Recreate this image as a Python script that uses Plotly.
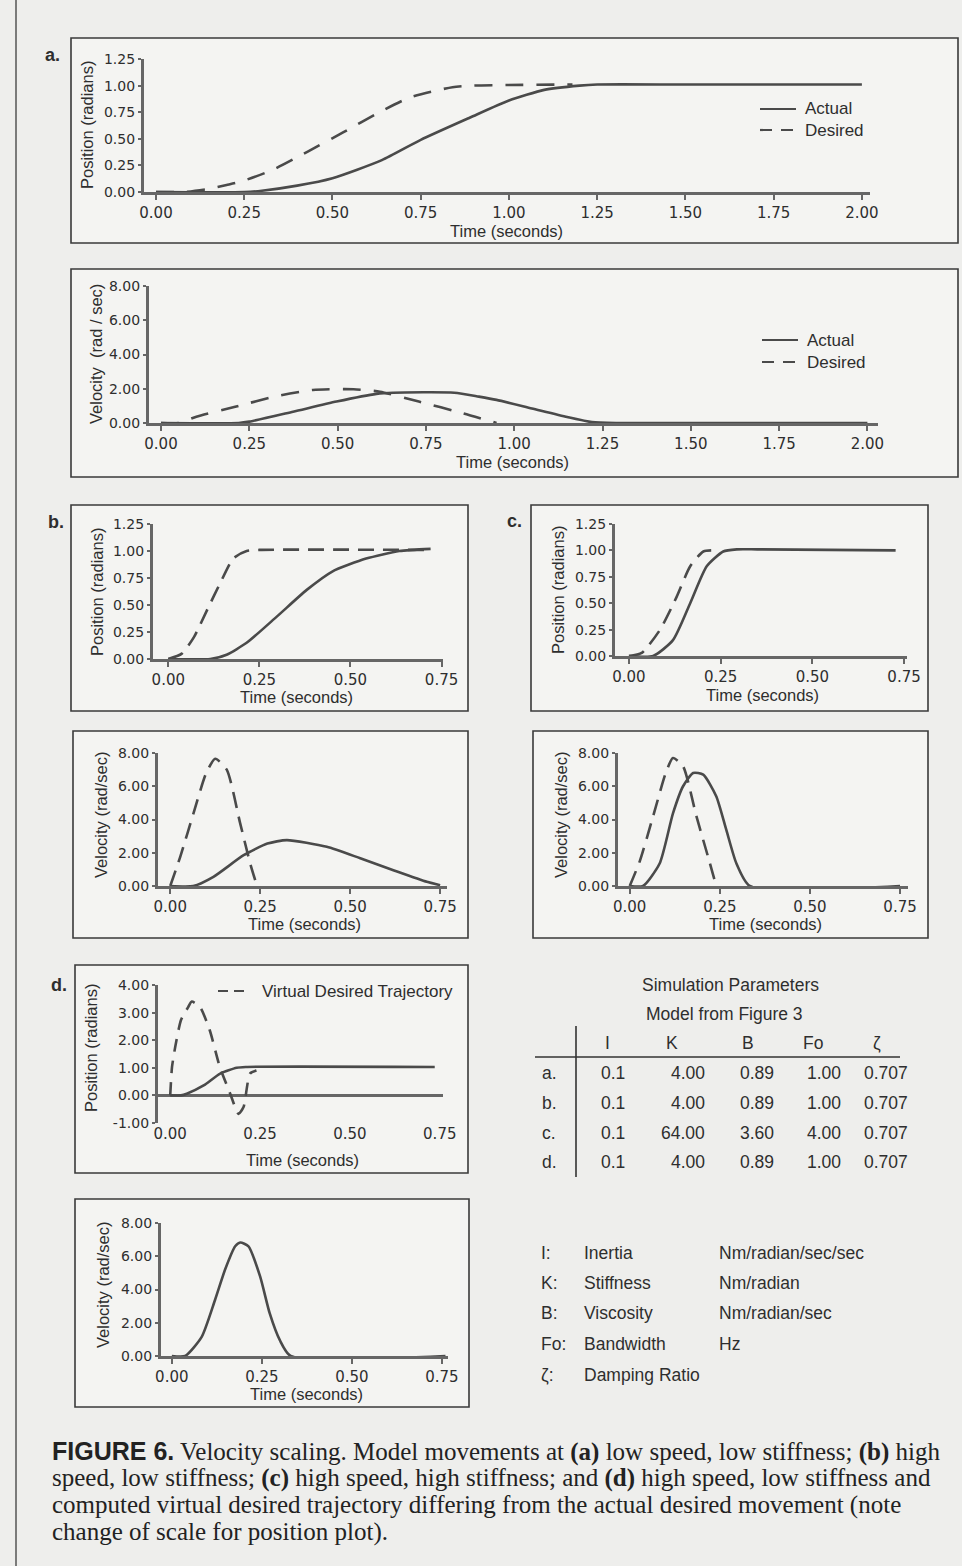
import plotly.graph_objects as go

W, H = 962, 1566

# ---------------- data ----------------
# Panel a : low speed, low stiffness
a_pos_t_actual = [0.0, 0.25, 0.30, 0.40, 0.50, 0.64, 0.75, 0.89, 1.0, 1.10, 1.20, 1.25, 1.5, 2.0]
a_pos_actual = [0.0, 0.0, 0.012, 0.06, 0.13, 0.30, 0.49, 0.70, 0.86, 0.96, 1.0, 1.01, 1.01, 1.01]
a_pos_t_desired = [0.0, 0.08, 0.15, 0.20, 0.24, 0.33, 0.43, 0.53, 0.63, 0.72, 0.84, 0.90, 1.18]
a_pos_desired = [0.0, 0.0, 0.03, 0.066, 0.097, 0.207, 0.38, 0.56, 0.745, 0.89, 0.985, 1.0, 1.01]
a_vel_t_actual = [0.0, 0.22, 0.25, 0.374, 0.497, 0.61, 0.657, 0.83, 0.90, 0.95, 1.05, 1.15, 1.22, 1.3, 2.0]
a_vel_actual = [0.0, 0.0, 0.08, 0.66, 1.25, 1.70, 1.77, 1.77, 1.54, 1.35, 0.85, 0.35, 0.05, 0.0, 0.0]
a_vel_t_desired = [0.0, 0.05, 0.10, 0.21, 0.33, 0.43, 0.545, 0.62, 0.73, 0.855, 0.95]
a_vel_desired = [0.0, 0.0, 0.37, 0.95, 1.58, 1.93, 1.97, 1.83, 1.25, 0.57, 0.0]

# Panel b : high speed, low stiffness
b_pos_t_actual = [0.0, 0.115, 0.16, 0.215, 0.297, 0.38, 0.45, 0.543, 0.634, 0.72]
b_pos_actual = [0.0, 0.0, 0.04, 0.15, 0.39, 0.64, 0.81, 0.93, 1.0, 1.02]
b_pos_t_desired = [0.0, 0.037, 0.07, 0.106, 0.142, 0.178, 0.215, 0.25, 0.72]
b_pos_desired = [0.0, 0.05, 0.2, 0.45, 0.70, 0.93, 1.0, 1.01, 1.01]
b_vel_t_actual = [0.0, 0.064, 0.12, 0.204, 0.27, 0.324, 0.435, 0.528, 0.62, 0.713, 0.75]
b_vel_actual = [0.0, 0.0, 0.55, 1.85, 2.55, 2.76, 2.36, 1.67, 0.95, 0.25, 0.05]
b_vel_t_desired = [0.0, 0.028, 0.065, 0.10, 0.125, 0.157, 0.194, 0.222, 0.241]
b_vel_desired = [0.0, 1.77, 4.4, 6.8, 7.65, 7.0, 3.8, 1.37, 0.0]

# Panel c : high speed, high stiffness
c_pos_t_actual = [0.0, 0.066, 0.12, 0.167, 0.212, 0.257, 0.294, 0.35, 0.727]
c_pos_actual = [0.0, 0.0, 0.15, 0.5, 0.85, 0.99, 1.01, 1.01, 1.0]
c_pos_t_desired = [0.0, 0.035, 0.085, 0.13, 0.167, 0.203, 0.24]
c_pos_desired = [0.0, 0.03, 0.25, 0.56, 0.85, 0.99, 1.0]
c_vel_t_actual = [0.0, 0.037, 0.083, 0.12, 0.148, 0.176, 0.204, 0.24, 0.268, 0.296, 0.333, 0.75]
c_vel_actual = [0.0, 0.0, 1.35, 4.37, 6.0, 6.8, 6.7, 5.4, 3.37, 1.35, 0.0, 0.0]
c_vel_t_desired = [0.0, 0.028, 0.065, 0.10, 0.12, 0.148, 0.185, 0.222, 0.24]
c_vel_desired = [0.0, 1.5, 4.2, 6.8, 7.7, 7.2, 4.2, 1.4, 0.0]

# Panel d : high speed, low stiffness, virtual desired trajectory
d_pos_t_actual = [0.0, 0.03, 0.046, 0.093, 0.139, 0.185, 0.21, 0.736]
d_pos_actual = [0.0, 0.0, 0.06, 0.36, 0.79, 1.0, 1.03, 1.03]
d_pos_t_virtual = [0.0, 0.005, 0.014, 0.03, 0.05, 0.06, 0.083, 0.11, 0.138, 0.167, 0.19, 0.204, 0.222, 0.24]
d_pos_virtual = [0.0, 1.03, 1.76, 2.73, 3.2, 3.4, 3.2, 2.36, 1.03, 0.06, -0.67, -0.42, 0.79, 0.9]
d_vel_t_actual = [0.0, 0.037, 0.083, 0.12, 0.148, 0.176, 0.19, 0.213, 0.245, 0.272, 0.30, 0.33, 0.76]
d_vel_actual = [0.0, 0.0, 1.15, 3.37, 5.2, 6.6, 6.83, 6.6, 4.8, 2.56, 0.95, 0.0, 0.0]

# tick values
a_time_ticks = [0.0, 0.25, 0.5, 0.75, 1.0, 1.25, 1.5, 1.75, 2.0]
short_time_ticks = [0.0, 0.25, 0.5, 0.75]
pos_ticks = [0.0, 0.25, 0.5, 0.75, 1.0, 1.25]
vel_ticks = [0.0, 2.0, 4.0, 6.0, 8.0]
d_pos_ticks = [-1.0, 0.0, 1.0, 2.0, 3.0, 4.0]

# table of simulation parameters
table_rows = ["a.", "b.", "c.", "d."]
table_I = ["0.1", "0.1", "0.1", "0.1"]
table_K = ["4.00", "4.00", "64.00", "4.00"]
table_B = ["0.89", "0.89", "3.60", "0.89"]
table_Fo = ["1.00", "1.00", "4.00", "1.00"]
table_zeta = ["0.707", "0.707", "0.707", "0.707"]
def_symbols = ["I:", "K:", "B:", "Fo:", "ζ:"]
def_names = ["Inertia", "Stiffness", "Viscosity", "Bandwidth", "Damping Ratio"]
def_units = ["Nm/radian/sec/sec", "Nm/radian", "Nm/radian/sec", "Hz", ""]

caption_lines = [
    "<span style='font-family:Liberation Sans'><b>FIGURE 6.</b></span> Velocity scaling. Model movements at <b>(a)</b> low speed, low stiffness; <b>(b)</b> high",
    "speed, low stiffness; <b>(c)</b> high speed, high stiffness; and <b>(d)</b> high speed, low stiffness and",
    "computed virtual desired trajectory differing from the actual desired movement (note",
    "change of scale for position plot).",
]

# ---------------- styling / layout helpers ----------------
BG = "#eeeeec"
PANEL_BG = "#f4f4f2"
INK = "#2e2e2e"
CURVE = "#4a4a4a"
AXIS = "#666666"
SANS = "Liberation Sans, Arial, sans-serif"
TICKF = "DejaVu Sans, sans-serif"
SERIF = "Liberation Serif, Times New Roman, serif"


def X(px):
    return px / W


def Y(py):
    return 1 - py / H


panels = [
    dict(box=(71, 38, 958, 243), area=(144, 870, 59, 192), xr=(-0.034, 2.023), yr=(0, 1.25),
         xt=a_time_ticks, yt=pos_ticks, ytitle="Position (radians)", ytpos=(87, 125), xtpos=(506, 231)),
    dict(box=(71, 269, 958, 477), area=(149, 878, 286, 423), xr=(-0.034, 2.03), yr=(0, 8),
         xt=a_time_ticks, yt=vel_ticks, ytitle="Velocity  (rad / sec)", ytpos=(96, 354), xtpos=(512, 462)),
    dict(box=(71, 505, 468, 711), area=(153, 443, 524, 659), xr=(-0.042, 0.754), yr=(0, 1.25),
         xt=short_time_ticks, yt=pos_ticks, ytitle="Position (radians)", ytpos=(97, 592), xtpos=(296, 697)),
    dict(box=(531, 505, 928, 711), area=(615, 907, 524, 656), xr=(-0.038, 0.758), yr=(0, 1.25),
         xt=short_time_ticks, yt=pos_ticks, ytitle="Position (radians)", ytpos=(558, 590), xtpos=(762, 695)),
    dict(box=(73, 731, 468, 938), area=(158, 447, 753, 886), xr=(-0.034, 0.769), yr=(0, 8),
         xt=short_time_ticks, yt=vel_ticks, ytitle="Velocity (rad/sec)", ytpos=(101, 815), xtpos=(304, 924)),
    dict(box=(533, 731, 928, 938), area=(618, 908, 753, 886), xr=(-0.0325, 0.772), yr=(0, 8),
         xt=short_time_ticks, yt=vel_ticks, ytitle="Velocity (rad/sec)", ytpos=(561, 815), xtpos=(765, 924)),
    dict(box=(75, 965, 468, 1173), area=(158, 443, 985, 1123), xr=(-0.034, 0.759), yr=(-1, 4),
         xt=short_time_ticks, yt=d_pos_ticks, ytitle="Position (radians)", ytpos=(91, 1048), xtpos=(302, 1160),
         zero=True),
    dict(box=(75, 1199, 469, 1407), area=(161, 448, 1223, 1356), xr=(-0.03, 0.767), yr=(0, 8),
         xt=short_time_ticks, yt=vel_ticks, ytitle="Velocity (rad/sec)", ytpos=(103, 1285), xtpos=(306, 1394)),
]

series = [
    # (panel index, t, v, dash, name)
    (0, a_pos_t_actual, a_pos_actual, "solid", "Actual"),
    (0, a_pos_t_desired, a_pos_desired, "18px,13px", "Desired"),
    (1, a_vel_t_actual, a_vel_actual, "solid", "Actual"),
    (1, a_vel_t_desired, a_vel_desired, "18px,13px", "Desired"),
    (2, b_pos_t_actual, b_pos_actual, "solid", "Actual"),
    (2, b_pos_t_desired, b_pos_desired, "16px,9px", "Desired"),
    (3, c_pos_t_actual, c_pos_actual, "solid", "Actual"),
    (3, c_pos_t_desired, c_pos_desired, "16px,9px", "Desired"),
    (4, b_vel_t_actual, b_vel_actual, "solid", "Actual"),
    (4, b_vel_t_desired, b_vel_desired, "16px,9px", "Desired"),
    (5, c_vel_t_actual, c_vel_actual, "solid", "Actual"),
    (5, c_vel_t_desired, c_vel_desired, "16px,9px", "Desired"),
    (6, d_pos_t_actual, d_pos_actual, "solid", "Actual"),
    (6, d_pos_t_virtual, d_pos_virtual, "13px,9px", "Virtual Desired Trajectory"),
    (7, d_vel_t_actual, d_vel_actual, "solid", "Actual"),
]

fig = go.Figure()

for pi, t, v, dash, name in series:
    k = "" if pi == 0 else str(pi + 1)
    fig.add_trace(go.Scatter(
        x=t, y=v, mode="lines", xaxis="x" + k, yaxis="y" + k, name=name, showlegend=False,
        line=dict(color=CURVE, width=2.6, dash=dash, shape="spline", smoothing=0.6),
        hoverinfo="skip"))

layout = dict(
    template="none",
    width=W, height=H, autosize=False,
    margin=dict(l=0, r=0, t=0, b=0, pad=0),
    paper_bgcolor=BG, plot_bgcolor="rgba(0,0,0,0)",
    font=dict(family=SANS, color=INK),
    showlegend=False,
)

shapes = []
annotations = []

for i, p in enumerate(panels):
    k = "" if i == 0 else str(i + 1)
    l, r, t, b = p["area"]
    zero = p.get("zero", False)
    layout["xaxis" + k] = dict(
        domain=[X(l), X(r)], range=list(p["xr"]), anchor="y" + k, automargin=False,
        tickvals=p["xt"], ticktext=[f"{v:.2f}" for v in p["xt"]],
        showline=not zero, linewidth=3.2, linecolor=AXIS,
        ticks="" if zero else "outside", ticklen=5, tickwidth=1.5, tickcolor=AXIS,
        tickfont=dict(family=TICKF, size=15, color=INK),
        showgrid=False, zeroline=False, fixedrange=True,
    )
    layout["yaxis" + k] = dict(
        domain=[Y(b), Y(t)], range=list(p["yr"]), anchor="x" + k, automargin=False,
        tickvals=p["yt"], ticktext=[f"{v:.2f}" for v in p["yt"]],
        showline=True, linewidth=3.2, linecolor=AXIS,
        ticks="outside", ticklen=3, tickwidth=1.5, tickcolor=AXIS,
        tickfont=dict(family=TICKF, size=14, color=INK),
        showgrid=False, zeroline=zero, zerolinewidth=3.2, zerolinecolor=AXIS, fixedrange=True,
    )
    bl, bt, br, bb = p["box"]
    shapes.append(dict(type="rect", xref="paper", yref="paper", x0=X(bl), x1=X(br), y0=Y(bb), y1=Y(bt),
                       line=dict(color="#3a3a3a", width=1.6), fillcolor=PANEL_BG, layer="below"))
    annotations.append(dict(xref="paper", yref="paper", x=X(p["ytpos"][0]), y=Y(p["ytpos"][1]),
                            text=p["ytitle"], textangle=-90, showarrow=False,
                            font=dict(family=SANS, size=16.5, color=INK), xanchor="center", yanchor="middle"))
    annotations.append(dict(xref="paper", yref="paper", x=X(p["xtpos"][0]), y=Y(p["xtpos"][1]),
                            text="Time (seconds)", showarrow=False,
                            font=dict(family=SANS, size=16.5, color=INK), xanchor="center", yanchor="middle"))

# panel letters
for txt, px, py in [("a.", 52, 55), ("b.", 56, 522), ("c.", 514, 521), ("d.", 59, 985)]:
    annotations.append(dict(xref="paper", yref="paper", x=X(px), y=Y(py), text=f"<b>{txt}</b>",
                            showarrow=False, font=dict(family=SANS, size=18, color=INK),
                            xanchor="center", yanchor="middle"))

# left page border
shapes.append(dict(type="line", xref="paper", yref="paper", x0=X(16), x1=X(16), y0=0, y1=1,
                   line=dict(color="#555555", width=1.5)))

# legend keys (sample line + label)
legend_items = [
    # (x0, x1, y, dash, label, text x)
    (760, 796, 109, "solid", "Actual", 803),
    (760, 796, 130, "12px,9px", "Desired", 803),
    (762, 798, 340, "solid", "Actual", 805),
    (762, 798, 362, "12px,9px", "Desired", 805),
    (218, 244, 991, "10px,6px", "Virtual Desired Trajectory", 260),
]
for x0, x1, yy, dash, label, tx in legend_items:
    shapes.append(dict(type="line", xref="paper", yref="paper", x0=X(x0), x1=X(x1), y0=Y(yy), y1=Y(yy),
                       line=dict(color=CURVE, width=2.2, dash=dash)))
    annotations.append(dict(xref="paper", yref="paper", x=X(tx), y=Y(yy), text=label, showarrow=False,
                            font=dict(family=SANS, size=17, color=INK), xanchor="left", yanchor="middle"))

# simulation parameters table
tf = dict(family=SANS, size=17.5, color=INK)
annotations.append(dict(xref="paper", yref="paper", x=X(730), y=Y(985), text="Simulation Parameters",
                        showarrow=False, font=tf, xanchor="center", yanchor="middle"))
annotations.append(dict(xref="paper", yref="paper", x=X(724), y=Y(1014), text="Model from Figure 3",
                        showarrow=False, font=tf, xanchor="center", yanchor="middle"))
for txt, px in [("I", 607), ("K", 672), ("B", 748), ("Fo", 813), ("ζ", 877)]:
    annotations.append(dict(xref="paper", yref="paper", x=X(px), y=Y(1043), text=txt,
                            showarrow=False, font=tf, xanchor="center", yanchor="middle"))
shapes.append(dict(type="line", xref="paper", yref="paper", x0=X(535), x1=X(900), y0=Y(1057), y1=Y(1057),
                   line=dict(color="#333333", width=1.6)))
shapes.append(dict(type="line", xref="paper", yref="paper", x0=X(576), x1=X(576), y0=Y(1026), y1=Y(1177),
                   line=dict(color="#333333", width=1.6)))
row_y = [1073, 1103, 1133, 1162]
for j, ry in enumerate(row_y):
    cells = [
        (table_rows[j], 540, "left"),
        (table_I[j], 613, "center"),
        (table_K[j], 707, "right"),
        (table_B[j], 757, "center"),
        (table_Fo[j], 824, "center"),
        (table_zeta[j], 886, "center"),
    ]
    for txt, px, anc in cells:
        annotations.append(dict(xref="paper", yref="paper", x=X(px), y=Y(ry), text=txt,
                                showarrow=False, font=tf, xanchor=anc, yanchor="middle"))

def_y = [1253, 1283, 1313, 1344, 1375]
for j, dy in enumerate(def_y):
    for txt, px in [(def_symbols[j], 539), (def_names[j], 582), (def_units[j], 717)]:
        if txt:
            annotations.append(dict(xref="paper", yref="paper", x=X(px), y=Y(dy), text=txt,
                                    showarrow=False, font=tf, xanchor="left", yanchor="middle"))

# caption
cap_y = [1451, 1478, 1505, 1532]
for line, cy in zip(caption_lines, cap_y):
    annotations.append(dict(xref="paper", yref="paper", x=X(50), y=Y(cy), text=line,
                            showarrow=False, font=dict(family=SERIF, size=25, color="#222222"),
                            xanchor="left", yanchor="middle"))

layout["shapes"] = shapes
layout["annotations"] = annotations
fig.update_layout(**layout)

fig.write_html("out.html", config={"displayModeBar": False},
               post_script="document.body.style.margin='0';document.body.style.overflow='hidden';")
